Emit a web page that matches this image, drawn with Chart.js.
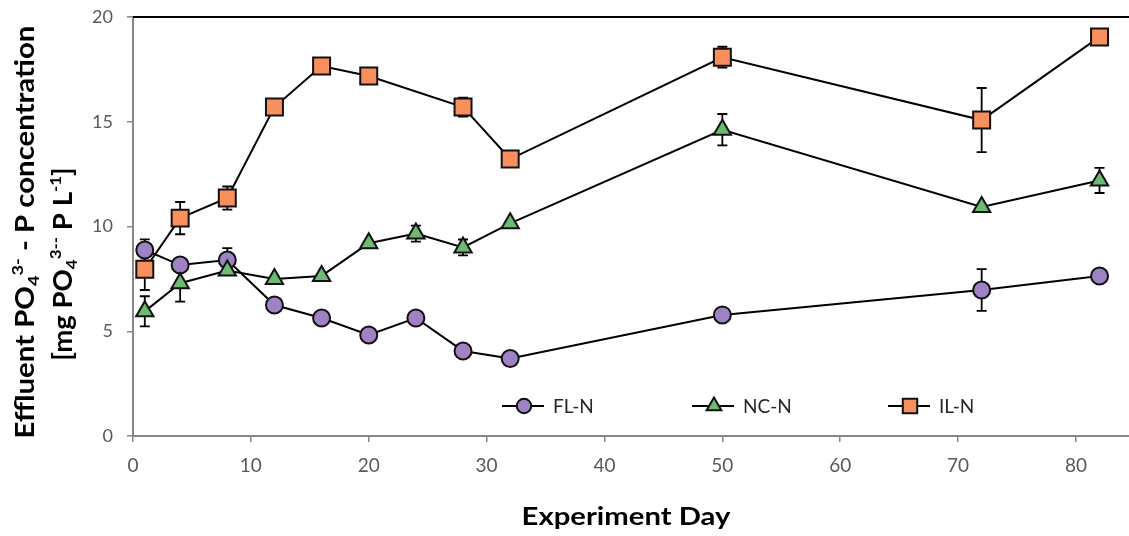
<!DOCTYPE html>
<html><head><meta charset="utf-8">
<script src="https://cdn.jsdelivr.net/npm/chart.js@4.4.0/dist/chart.umd.min.js"></script>
<style>html,body{margin:0;padding:0;background:#fff}#wrap{width:1129px;height:536px}</style>
</head><body><div id="wrap"><canvas id="c" width="1129" height="536"></canvas></div>
<script>
// ---- data ----
const seriesNames = ['FL-N', 'NC-N', 'IL-N'];
const flDays = [1, 4, 8, 12, 16, 20, 24, 28, 32, 50, 72, 82];
const flVals = [8.88, 8.16, 8.40, 6.25, 5.63, 4.82, 5.63, 4.06, 3.70, 5.78, 6.97, 7.64];
const flErr  = [0.51, 0, 0.57, 0, 0, 0, 0, 0, 0, 0, 1.0, 0];
const ncDays = [1, 4, 8, 12, 16, 20, 24, 28, 32, 50, 72, 82];
const ncVals = [5.95, 7.29, 7.90, 7.50, 7.64, 9.20, 9.66, 9.00, 10.15, 14.62, 10.93, 12.20];
const ncErr  = [0.72, 0.88, 0, 0, 0, 0, 0.38, 0.38, 0, 0.75, 0, 0.6];
const ilDays = [1, 4, 8, 12, 16, 20, 28, 32, 50, 72, 82];
const ilVals = [7.96, 10.40, 11.36, 15.70, 17.66, 17.18, 15.70, 13.22, 18.08, 15.08, 19.05];
const ilErr  = [0.99, 0.77, 0.55, 0, 0, 0, 0.45, 0, 0.5, 1.53, 0];
const xTicks = [0, 10, 20, 30, 40, 50, 60, 70, 80];
const yTitleLine1 = [{t:'Effluent PO', m:'n'}, {t:'4', m:'sub'}, {t:'3-', m:'sup'}, {t:' - P concentration', m:'n'}];
const yTitleLine2 = [{t:'[mg PO', m:'n'}, {t:'4', m:'sub'}, {t:'3--', m:'sup'}, {t:' P L', m:'n'}, {t:'-1', m:'sup'}, {t:']', m:'n'}];
const xTitle = 'Experiment Day';

const pts = (xs, ys) => xs.map((x, i) => ({x: x, y: ys[i]}));
const FONT = 'Lato';

function drawRich(ctx, runs, cx, cy, size, rot, stretch) {
  ctx.save();
  ctx.translate(cx, cy);
  if (rot) ctx.rotate(-Math.PI / 2);
  ctx.scale(stretch, 1);
  ctx.textBaseline = 'alphabetic';
  ctx.textAlign = 'left';
  ctx.fillStyle = '#000';
  const fontFor = r => 'bold ' + (r.m === 'n' ? size : Math.round(size * 0.62)) + 'px ' + FONT;
  let total = 0;
  const widths = runs.map(r => { ctx.font = fontFor(r); const w = ctx.measureText(r.t).width; total += w; return w; });
  let x = -total / 2;
  runs.forEach((r, i) => {
    ctx.font = fontFor(r);
    const dy = r.m === 'sup' ? -size * 0.42 : (r.m === 'sub' ? size * 0.2 : 0);
    ctx.fillText(r.t, x, dy);
    x += widths[i];
  });
  ctx.restore();
}

const errorBars = {
  id: 'errorBars',
  beforeDatasetsDraw(chart) {
    const ctx = chart.ctx, xs = chart.scales.x, ys = chart.scales.y;
    ctx.save();
    ctx.strokeStyle = '#000';
    ctx.lineWidth = 1.8;
    chart.data.datasets.forEach(ds => {
      (ds.errors || []).forEach((e, i) => {
        if (!e) return;
        const p = ds.data[i];
        const px = xs.getPixelForValue(p.x);
        const y1 = ys.getPixelForValue(p.y + e), y2 = ys.getPixelForValue(p.y - e);
        ctx.beginPath();
        ctx.moveTo(px, y1); ctx.lineTo(px, y2);
        ctx.moveTo(px - 5, y1); ctx.lineTo(px + 5, y1);
        ctx.moveTo(px - 5, y2); ctx.lineTo(px + 5, y2);
        ctx.stroke();
      });
    });
    ctx.restore();
  }
};

const extras = {
  id: 'extras',
  afterDraw(chart) {
    const ctx = chart.ctx, a = chart.chartArea;
    // top border
    ctx.save();
    ctx.strokeStyle = '#000';
    ctx.lineWidth = 2;
    ctx.beginPath(); ctx.moveTo(a.left, a.top); ctx.lineTo(a.right, a.top); ctx.stroke();
    ctx.restore();
    // axis titles
    drawRich(ctx, yTitleLine1, 34, 232, 26, true, 1.13);
    drawRich(ctx, yTitleLine2, 72, 264, 26, true, 1.06);
    drawRich(ctx, [{t: xTitle, m: 'n'}], 626, 525, 25, false, 1.17);
    // legend
    const lx = [502, 692, 888], ly = 406;
    chart.data.datasets.forEach((ds, i) => {
      ctx.save();
      ctx.strokeStyle = '#000'; ctx.lineWidth = 2;
      ctx.beginPath(); ctx.moveTo(lx[i], ly); ctx.lineTo(lx[i] + 42, ly); ctx.stroke();
      ctx.fillStyle = ds.pointBackgroundColor;
      ctx.strokeStyle = '#111';
      ctx.lineWidth = 2;
      Chart.helpers.drawPoint(ctx, {pointStyle: ds.pointStyle, radius: ds.pointRadius * 0.85, rotation: 0, borderWidth: 2}, lx[i] + 22, ly);
      ctx.fillStyle = '#262626';
      ctx.font = '19px ' + FONT;
      ctx.textBaseline = 'middle';
      ctx.textAlign = 'left';
      ctx.fillText(ds.label, lx[i] + 51, ly + 1);
      ctx.restore();
    });
  }
};

const mk = (label, data, errors, style, radius, color, order) => ({
  label, data, errors, order,
  borderColor: '#000', borderWidth: 2, tension: 0,
  pointStyle: style, pointRadius: radius, pointHoverRadius: radius,
  pointBackgroundColor: color, pointBorderColor: '#111', pointBorderWidth: 2,
  clip: false
});

const noPad = s => { s.paddingTop = 0; s.paddingBottom = 0; s.paddingLeft = 0; s.paddingRight = 0; };

new Chart(document.getElementById('c'), {
  type: 'line',
  data: {
    datasets: [
      mk(seriesNames[0], pts(flDays, flVals), flErr, 'circle', 8.5, '#9F82C4', 2),
      mk(seriesNames[1], pts(ncDays, ncVals), ncErr, 'triangle', 10, '#6DBA72', 1),
      mk(seriesNames[2], pts(ilDays, ilVals), ilErr, 'rect', 12, '#F88F5C', 0)
    ]
  },
  options: {
    responsive: false,
    animation: false,
    devicePixelRatio: 1,
    layout: {autoPadding: false, padding: {top: 17, right: 0, left: 0, bottom: 0}},
    plugins: {legend: {display: false}, tooltip: {enabled: false}},
    scales: {
      x: {
        type: 'linear', min: 0, max: 84.5,
        afterBuildTicks: s => { s.ticks = xTicks.map(v => ({value: v})); },
        afterFit: s => { s.height = 100; noPad(s); },
        ticks: {color: '#595959', font: {family: FONT, size: 19}, padding: 12, maxRotation: 0},
        grid: {drawOnChartArea: false, drawTicks: true, tickLength: 6, color: '#878787', lineWidth: 1.5},
        border: {color: '#878787', width: 2}
      },
      y: {
        min: 0, max: 20,
        afterFit: s => { s.width = 133; noPad(s); },
        ticks: {stepSize: 5, color: '#595959', font: {family: FONT, size: 18}, padding: 14},
        grid: {drawOnChartArea: false, drawTicks: true, tickLength: 6, color: '#878787', lineWidth: 1.5},
        border: {color: '#878787', width: 2}
      }
    }
  },
  plugins: [errorBars, extras]
});
</script>
</body></html>
